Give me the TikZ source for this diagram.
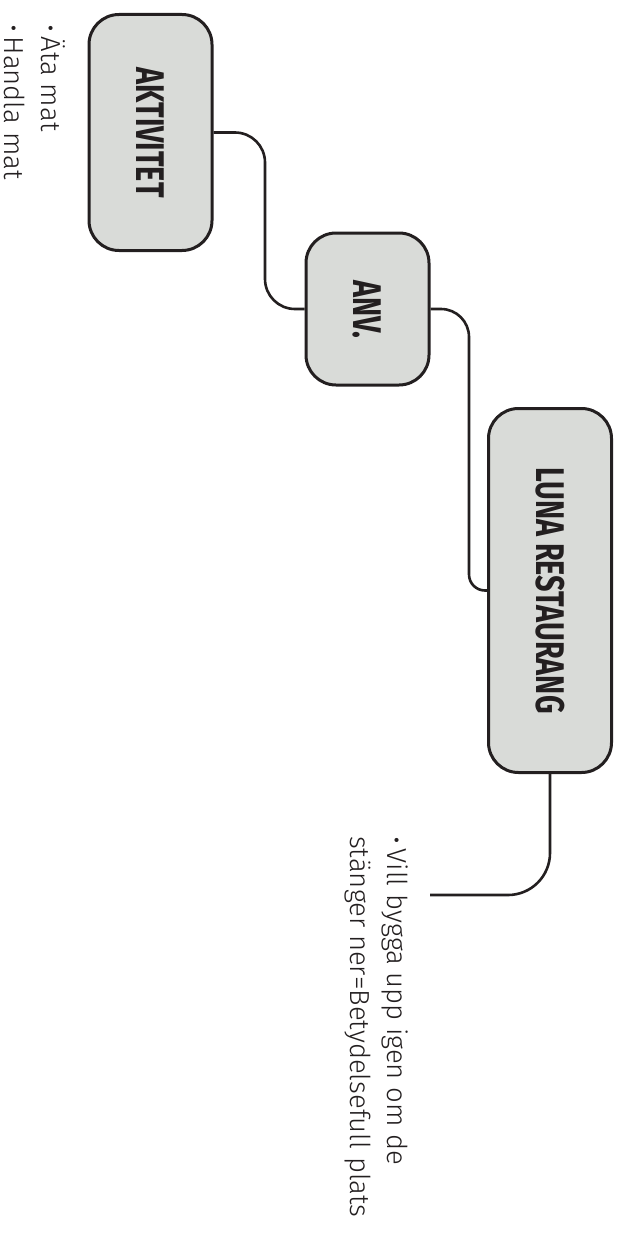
\documentclass[tikz,border=0pt]{standalone}
\usepackage{fontspec}
\newfontfamily\notefont{Fira Sans Light}
\newfontfamily\boxfont{Fira Sans Bold}[FakeStretch=0.72]
\definecolor{boxgray}{RGB}{217,219,216}
\definecolor{ink}{RGB}{35,31,32}

\begin{document}
\begin{tikzpicture}[x=1pt,y=-1pt,
  box/.style={draw=ink,fill=boxgray,line width=3pt,rounded corners=30pt,rotate=-90,
    minimum height=123pt,inner sep=0pt,text=ink,font=\boxfont\fontsize{40}{40}\selectfont},
  link/.style={draw=ink,line width=2.6pt},
  note/.style={rotate=-90,anchor=north west,align=left,inner sep=0pt,text=ink,
    font=\notefont\fontsize{27.5}{37}\selectfont}]
\useasboundingbox (0,0) rectangle (622,1236);
\node[box,minimum width=236pt] (akt) at (150.5,132.5) {AKTIVITET};
\node[box,minimum width=152pt] (anv) at (367.5,309) {ANV.};
\node[box,minimum width=364pt] (luna) at (550,590.5) {LUNA RESTAURANG};
\coordinate (end) at (430,895);
\draw[link,rounded corners=30pt] (akt.north) -| (265,220) |- (anv.south);
\draw[link,rounded corners=28pt] (anv.north) -| (469,450) [rounded corners=16pt] |- (luna.south);
\draw[link,rounded corners=42pt] (luna.east) |- (end);
\node[note] (eat) at (66,24) {•\,Äta mat\\•\,Handla mat};
\node[note] (vill) at (408,836) {•\,Vill bygga upp igen om de\\stänger ner=Betydelsefull plats};
\end{tikzpicture}
\end{document}
